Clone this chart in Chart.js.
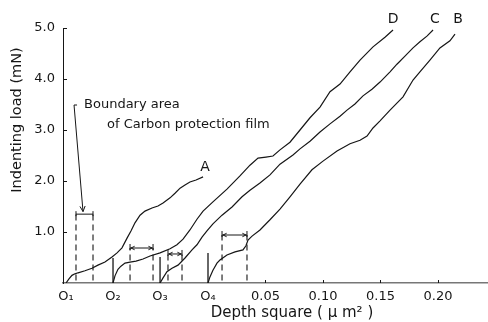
<!DOCTYPE html>
<html>
<head>
<meta charset="utf-8">
<script src="https://cdn.jsdelivr.net/npm/chart.js@4.4.1/dist/chart.umd.min.js"></script>
<style>
  html, body { margin: 0; padding: 0; background: #fff; }
  #wrap { width: 488px; height: 322px; position: relative; }
</style>
</head>
<body>
<div id="wrap"><canvas id="c" width="488" height="322"></canvas></div>
<script>
// ---- Tick values / labels ----
const xTickValues = [-0.1235, -0.0826, -0.0417, 0, 0.05, 0.10, 0.15, 0.20];
const xTickLabels = ['O\u2081', 'O\u2082', 'O\u2083', 'O\u2084', '0.05', '0.10', '0.15', '0.20'];
const yTickValues = [1, 2, 3, 4, 5];
const yTickLabels = ['1.0', '2.0', '3.0', '4.0', '5.0'];

// ---- Curves (x = plotted depth-square position, y = load mN) ----
const curveNames = ['A', 'D', 'C', 'B'];
const curveA_x = [-0.1235,-0.1209,-0.1183,-0.1157,-0.1130,-0.1070,-0.1009,-0.0957,-0.0896,-0.0835,-0.0791,-0.0748,-0.0704,-0.0670,-0.0635,-0.0591,-0.0548,-0.0487,-0.0435,-0.0391,-0.0330,-0.0287,-0.0243,-0.0200,-0.0157,-0.0104,-0.0043];
const curveA_y = [0,0.08,0.15,0.18,0.20,0.24,0.29,0.35,0.41,0.51,0.59,0.69,0.88,1.02,1.18,1.33,1.41,1.47,1.51,1.57,1.67,1.76,1.86,1.92,1.98,2.02,2.08];

const curveD_x = [-0.0826,-0.0809,-0.0783,-0.0757,-0.0722,-0.0678,-0.0626,-0.0565,-0.0504,-0.0417,-0.0330,-0.0270,-0.0217,-0.0157,-0.0096,-0.0043,0.0043,0.0165,0.0278,0.0365,0.0435,0.0504,0.0565,0.0626,0.0713,0.0800,0.0887,0.0974,0.1061,0.1148,0.1235,0.1322,0.1435,0.1539,0.1609];
const curveD_y = [0,0.14,0.27,0.33,0.39,0.41,0.43,0.47,0.53,0.59,0.67,0.75,0.86,1.04,1.25,1.41,1.59,1.84,2.10,2.31,2.45,2.47,2.49,2.61,2.76,3.00,3.24,3.45,3.75,3.90,4.14,4.37,4.63,4.82,4.96];

const curveC_x = [-0.0417,-0.0391,-0.0357,-0.0313,-0.0261,-0.0200,-0.0139,-0.0096,-0.0052,-0.0009,0.0043,0.0122,0.0209,0.0296,0.0365,0.0452,0.0539,0.0626,0.0739,0.0800,0.0887,0.0974,0.1061,0.1148,0.1209,0.1278,0.1348,0.1426,0.1496,0.1583,0.1643,0.1713,0.1783,0.1843,0.1904,0.1957];
const curveC_y = [0,0.10,0.22,0.29,0.35,0.49,0.65,0.75,0.90,1.02,1.16,1.33,1.49,1.69,1.82,1.96,2.12,2.33,2.51,2.63,2.78,2.96,3.12,3.27,3.39,3.51,3.67,3.80,3.94,4.14,4.29,4.45,4.61,4.73,4.84,4.96];

const curveB_x = [0,0.0017,0.0043,0.0078,0.0104,0.0165,0.0235,0.0304,0.0330,0.0348,0.0383,0.0452,0.0539,0.0626,0.0713,0.0800,0.0904,0.1000,0.1122,0.1235,0.1322,0.1383,0.1435,0.1496,0.1583,0.1696,0.1783,0.1843,0.1930,0.2017,0.2104,0.2148];
const curveB_y = [0,0.12,0.25,0.39,0.45,0.55,0.61,0.65,0.73,0.84,0.92,1.04,1.24,1.45,1.69,1.94,2.22,2.39,2.59,2.73,2.80,2.88,3.04,3.18,3.39,3.65,3.98,4.14,4.37,4.61,4.75,4.88];

// ---- Origins of each curve and the short vertical origin markers ----
const originX = [-0.1235, -0.0826, -0.0417, 0];
const originMarkerTop = [0, 0.49, 0.51, 0.59];

// ---- Boundary areas (order: A, D, C, B) ----
const boundaryLeft  = [-0.1148, -0.0678, -0.0348, 0.0122];
const boundaryRight = [-0.1000, -0.0478, -0.0226, 0.0339];
const boundaryTop   = [1.35, 0.686, 0.569, 0.941];

const curveX = [curveA_x, curveD_x, curveC_x, curveB_x];
const curveY = [curveA_y, curveD_y, curveC_y, curveB_y];

const FONT = '"DejaVu Sans", sans-serif';
const INK = '#161616';

const datasets = [];
curveNames.forEach((n, i) => {
  datasets.push({
    label: n,
    data: curveX[i].map((v, k) => ({ x: v, y: curveY[i][k] })),
    showLine: true, borderColor: INK, borderWidth: 1.2, pointRadius: 0, tension: 0, fill: false
  });
});
boundaryLeft.forEach((l, i) => {
  [l, boundaryRight[i]].forEach(v => {
    datasets.push({
      label: 'boundary',
      data: [{ x: v, y: 0.05 }, { x: v, y: boundaryTop[i] }],
      showLine: true, borderColor: INK, borderWidth: 1.1, borderDash: [6, 4], pointRadius: 0
    });
  });
});
originX.forEach((o, i) => {
  if (originMarkerTop[i] > 0) {
    datasets.push({
      label: 'origin',
      data: [{ x: o, y: 0 }, { x: o, y: originMarkerTop[i] }],
      showLine: true, borderColor: INK, borderWidth: 1.3, pointRadius: 0
    });
  }
});

function arrowHead(ctx, x, y, ang, size) {
  ctx.beginPath();
  ctx.moveTo(x, y);
  ctx.lineTo(x - size * Math.cos(ang - 0.45), y - size * Math.sin(ang - 0.45));
  ctx.moveTo(x, y);
  ctx.lineTo(x - size * Math.cos(ang + 0.45), y - size * Math.sin(ang + 0.45));
  ctx.stroke();
}

const annot = {
  id: 'annot',
  afterDatasetsDraw(chart) {
    const { ctx, chartArea: ca } = chart;
    const sx = chart.scales.x, sy = chart.scales.y;
    ctx.save();
    ctx.strokeStyle = INK; ctx.fillStyle = INK; ctx.lineWidth = 1;
    // inward y ticks
    yTickValues.forEach(v => {
      const py = Math.round(sy.getPixelForValue(v)) + 0.5;
      ctx.beginPath(); ctx.moveTo(ca.left, py); ctx.lineTo(ca.left + 4, py); ctx.stroke();
    });
    // inward x ticks (numeric ones)
    xTickValues.forEach((v, i) => {
      if (xTickLabels[i].charAt(0) === 'O') return;
      const px = Math.round(sx.getPixelForValue(v)) + 0.5;
      ctx.beginPath(); ctx.moveTo(px, ca.bottom); ctx.lineTo(px, ca.bottom - 3); ctx.stroke();
    });
    // boundary top bars / double arrows
    boundaryLeft.forEach((l, i) => {
      const x1 = sx.getPixelForValue(l), x2 = sx.getPixelForValue(boundaryRight[i]);
      const py = sy.getPixelForValue(boundaryTop[i]);
      ctx.beginPath(); ctx.moveTo(x1, py); ctx.lineTo(x2, py); ctx.stroke();
      if (i === 0) {
        [x1, x2].forEach(px => { ctx.beginPath(); ctx.moveTo(px, py - 3); ctx.lineTo(px, py + 2); ctx.stroke(); });
      } else {
        [x1, x2].forEach(px => { ctx.beginPath(); ctx.moveTo(px, py - 4); ctx.lineTo(px, py + 2); ctx.stroke(); });
        arrowHead(ctx, x1 + 1, py, Math.PI, 4);
        arrowHead(ctx, x2 - 1, py, 0, 4);
      }
    });
    // pointer from text to boundary of A
    const ax0 = sx.getPixelForValue(-0.1165), ay0 = sy.getPixelForValue(3.49);
    const ax1 = sx.getPixelForValue(-0.1087), ay1 = sy.getPixelForValue(1.40);
    ctx.beginPath(); ctx.moveTo(ax0 + 3, ay0); ctx.lineTo(ax0, ay0); ctx.lineTo(ax1, ay1); ctx.stroke();
    arrowHead(ctx, ax1, ay1, Math.atan2(ay1 - ay0, ax1 - ax0), 6);
    // annotation text
    ctx.font = '13px ' + FONT;
    ctx.textAlign = 'left'; ctx.textBaseline = 'middle';
    ctx.fillText('Boundary area', sx.getPixelForValue(-0.1078), sy.getPixelForValue(3.49));
    ctx.fillText('of Carbon protection film', sx.getPixelForValue(-0.0878), sy.getPixelForValue(3.10));
    // curve labels
    ctx.font = '14px ' + FONT;
    ctx.textAlign = 'center';
    const labelX = [-0.0026, 0.1609, 0.1974, 0.2174];
    const labelY = [2.27, 5.16, 5.16, 5.16];
    curveNames.forEach((n, i) => ctx.fillText(n, sx.getPixelForValue(labelX[i]), sy.getPixelForValue(labelY[i])));
    // axis titles
    ctx.font = '14.5px ' + FONT;
    ctx.save();
    ctx.translate(17, 120);
    ctx.rotate(-Math.PI / 2);
    ctx.fillText('Indenting load (mN)', 0, 0);
    ctx.restore();
    ctx.font = '15px ' + FONT;
    ctx.fillText('Depth square ( \u03BC m\u00B2 )', 292, 313);
    ctx.restore();
  }
};

new Chart(document.getElementById('c'), {
  type: 'scatter',
  data: { datasets },
  plugins: [annot],
  options: {
    responsive: false,
    animation: false,
    layout: { padding: { top: 28, right: 0, left: 0, bottom: 0 } },
    plugins: { legend: { display: false }, tooltip: { enabled: false } },
    scales: {
      x: {
        type: 'linear', min: -0.1261, max: 0.2435,
        afterBuildTicks: s => { s.ticks = xTickValues.map(v => ({ value: v })); },
        afterFit: s => { s.height = 39; },
        grid: { display: false, drawTicks: false },
        border: { display: true, color: '#777', width: 1.5 },
        ticks: {
          autoSkip: false, maxRotation: 0, padding: 6, color: INK,
          font: { family: FONT, size: 13 },
          callback: (v, i) => xTickLabels[i]
        }
      },
      y: {
        type: 'linear', min: 0, max: 5,
        afterBuildTicks: s => { s.ticks = yTickValues.map(v => ({ value: v })); },
        afterFit: s => { s.width = 63; },
        grid: { display: false, drawTicks: false },
        border: { display: true, color: INK, width: 1 },
        ticks: {
          padding: 8, color: INK,
          font: { family: FONT, size: 13 },
          callback: (v, i) => yTickLabels[i]
        }
      }
    }
  }
});
</script>
</body>
</html>
